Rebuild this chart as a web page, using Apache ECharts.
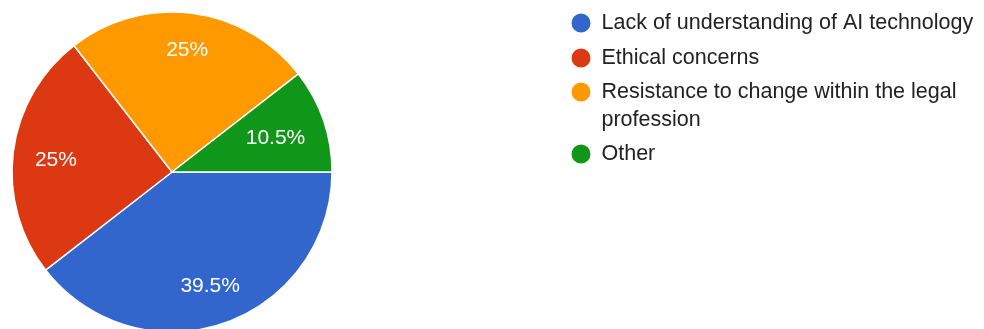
<!DOCTYPE html>
<html>
<head>
<meta charset="utf-8">
<title>Barriers to AI adoption</title>
<script src="https://cdn.jsdelivr.net/npm/echarts@6/dist/echarts.min.js"></script>
<style>
  html, body { margin: 0; padding: 0; background: #ffffff; }
  #chart { width: 984px; height: 329px; }
</style>
</head>
<body>
<div id="chart"></div>
<script>
// Survey answers and their shares (percent)
const categories = [
  'Lack of understanding of AI technology',
  'Ethical concerns',
  'Resistance to change within the legal profession',
  'Other'
];
const shares = [39.5, 25, 25, 10.5];
const colors = ['#3366cc', '#dc3912', '#ff9900', '#109618'];

const FONT = '"Liberation Sans", Arial, sans-serif';
const center = [172, 172];
const radius = 160;

const pieData = categories.map((name, i) => ({
  name: name,
  value: shares[i],
  itemStyle: { color: colors[i] }
}));

// Slice labels sit on a transparent ring so they land at ~3/4 of the radius
const labelNudge = [[-1, 0], [4, 3], [0, -2], [-11, 5]];
const labelData = categories.map((name, i) => ({
  name: name,
  value: shares[i],
  label: { offset: labelNudge[i] }
}));

const chart = echarts.init(document.getElementById('chart'), null, { renderer: 'canvas' });

const legendText = {
  color: '#222222',
  fontSize: 21.5,
  fontFamily: FONT,
  lineHeight: 28
};

const legendBase = {
  orient: 'vertical',
  left: 569.5,
  padding: 0,
  itemWidth: 31,
  itemHeight: 21,
  icon: 'circle',
  selectedMode: false,
  textStyle: legendText
};

chart.setOption({
  backgroundColor: '#ffffff',
  animation: false,
  color: colors,
  legend: [
    Object.assign({}, legendBase, {
      top: 9,
      itemGap: 7,
      data: [categories[0], categories[1]]
    }),
    Object.assign({}, legendBase, {
      top: 50,
      itemGap: 6,
      // a blank first line keeps the wrapped entry's first line level with its dot
      formatter: (name) => (name === categories[2] ? '\n' + name : name),
      data: [
        { name: categories[2], textStyle: { width: 372, overflow: 'break' } },
        categories[3]
      ]
    })
  ],
  series: [
    {
      name: 'slices',
      type: 'pie',
      center: center,
      radius: [0, radius],
      startAngle: 0,
      clockwise: true,
      avoidLabelOverlap: false,
      silent: true,
      label: { show: false },
      labelLine: { show: false },
      itemStyle: { borderColor: '#ffffff', borderWidth: 1.5 },
      data: pieData
    },
    {
      name: 'labels',
      type: 'pie',
      center: center,
      radius: [76, radius],
      startAngle: 0,
      clockwise: true,
      avoidLabelOverlap: false,
      silent: true,
      itemStyle: { color: 'rgba(0,0,0,0)', borderWidth: 0 },
      label: {
        show: true,
        position: 'inside',
        formatter: (p) => p.value + '%',
        color: '#ffffff',
        fontSize: 21,
        fontFamily: FONT
      },
      labelLine: { show: false },
      data: labelData
    }
  ]
});
</script>
</body>
</html>
